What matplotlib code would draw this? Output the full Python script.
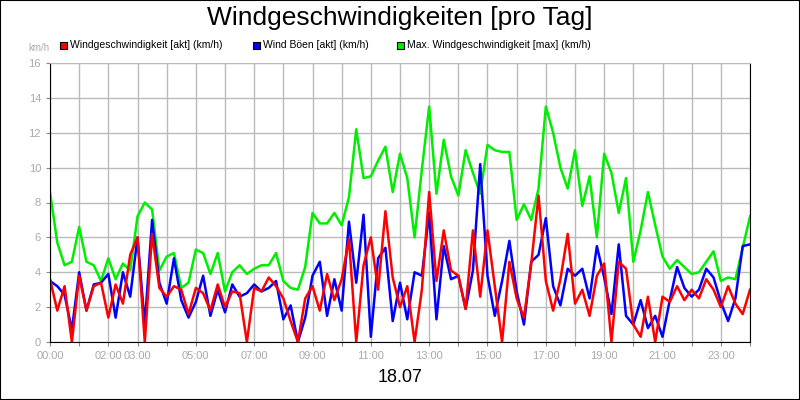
import matplotlib
matplotlib.use("Agg")
import matplotlib.pyplot as plt
import numpy as np
from matplotlib.patches import Rectangle

plt.rcParams["font.family"] = "Liberation Sans"

max_speed = [8.6,5.7,4.4,4.6, 6.6,4.6,4.4,3.5, 4.8,3.6,4.5,4.1, 7.2,8.0,7.6,4.1,
             4.9,5.1,3.1,3.4, 5.3,5.1,3.9,5.1, 2.9,4.0,4.4,3.9, 4.2,4.4,4.4,5.1,
             3.5,3.1,3.0,4.3, 7.4,6.8,6.8,7.4, 6.7,8.3,12.2,9.4, 9.5,10.4,11.2,8.6,
             10.8,9.4,6.0,9.9, 13.5,8.5,11.6,9.5, 8.4,11.0,9.7,8.5, 11.3,11.0,10.9,10.9,
             7.0,7.9,7.0,8.8, 13.5,12.0,10.0,8.8, 11.0,7.8,9.5,6.0, 10.8,9.7,7.4,9.4,
             4.6,6.4,8.6,6.7, 4.9,4.2,4.7,4.3, 3.9,4.0,4.6,5.2, 3.5,3.7,3.6,5.4, 7.2]
gust = [3.5,3.2,2.7,0.7, 4.0,1.8,3.3,3.4, 3.9,1.4,4.0,2.6, 6.0,1.0,7.0,3.4,
        2.2,4.8,2.4,1.4, 2.3,3.8,1.5,3.0, 1.7,3.3,2.6,2.8, 3.3,2.9,3.1,3.5,
        1.3,2.1,0.0,1.4, 3.8,4.6,1.5,3.6, 1.8,6.9,3.4,7.3, 0.3,4.8,5.4,1.2,
        3.4,1.3,4.0,3.8, 7.4,1.3,5.5,3.6, 3.8,1.9,4.1,10.2, 3.8,1.5,3.5,5.8,
        2.9,1.0,4.6,5.0, 7.1,3.2,2.1,4.2, 3.8,4.2,2.5,5.5, 3.7,1.6,5.6,1.5,
        1.0,2.4,0.8,1.5, 0.3,2.4,4.3,3.1, 2.6,3.0,4.2,3.7, 2.3,1.2,2.5,5.5, 5.6]
speed = [3.6,1.8,3.2,0.0, 3.8,1.8,3.2,3.4, 1.4,3.3,2.2,5.0, 6.0,0.0,6.2,3.1,
         2.6,3.2,3.0,1.6, 3.1,2.8,1.8,3.3, 2.0,2.9,2.8,0.0, 3.1,2.9,3.7,3.2,
         2.5,1.2,0.0,2.5, 3.2,1.8,3.9,2.4, 3.6,5.9,0.0,4.4, 6.0,3.0,7.5,3.7,
         2.0,3.2,0.0,3.0, 8.6,3.5,6.4,4.1, 3.8,1.9,6.4,2.6, 6.4,3.2,0.0,4.6,
         2.5,1.4,4.5,8.4, 3.5,1.8,3.6,6.2, 2.2,3.0,1.5,3.8, 4.5,0.0,4.6,4.2,
         1.0,0.3,2.6,0.0, 2.6,2.3,3.2,2.4, 3.0,2.5,3.6,3.0, 2.0,3.2,2.2,1.6, 3.0]
hours = np.arange(len(speed)) * 0.25
tick_labels = {0: "00:00", 2: "02:00", 3: "03:00", 5: "05:00", 7: "07:00", 9: "09:00",
               11: "11:00", 13: "13:00", 15: "15:00", 17: "17:00", 19: "19:00",
               21: "21:00", 23: "23:00"}
legend_labels = ["Windgeschwindigkeit [akt] (km/h)", "Wind Böen [akt] (km/h)",
                 "Max. Windgeschwindigkeit [max] (km/h)"]
colors = ["#ff0000", "#0000ff", "#00ee00"]

fig = plt.figure(figsize=(8, 4), dpi=100)
fig.patches.append(Rectangle((0, 0), 1, 1, transform=fig.transFigure, fill=False,
                             edgecolor="black", lw=1.5))
ax = fig.add_axes([50/800, 1-342/400, 700/800, 279/400])
ax.plot(hours, max_speed, color=colors[2], lw=1.8)
ax.plot(hours, gust, color=colors[1], lw=1.8)
ax.plot(hours, speed, color=colors[0], lw=1.8)
ax.set_xlim(0, 24)
ax.set_ylim(0, 16)
ax.set_xticks(range(25))
ax.set_xticklabels([tick_labels.get(h, "") for h in range(25)])
ax.set_yticks(range(0, 17, 2))
ax.grid(True, color="#bbbbbb", lw=1)
ax.tick_params(labelsize=8, labelcolor="#aaaaaa", color="#888888", length=3)
for s in ["left", "bottom", "right"]:
    ax.spines[s].set_color("black")
ax.spines["top"].set_color("#bbbbbb")

fig.text(0.5, 1-18/400, "Windgeschwindigkeiten [pro Tag]", ha="center", va="center", fontsize=19)
fig.text(28/800, 1-48/400, "km/h", fontsize=7, color="#aaaaaa", va="center")
xs = [60, 253, 397]
for x, lab, c in zip(xs, legend_labels, colors):
    fig.patches.append(Rectangle((x/800, 1-49/400), 7/800, 7/400, transform=fig.transFigure,
                                 facecolor=c, edgecolor="black", lw=0.8))
    fig.text((x+10)/800, 1-45/400, lab, fontsize=7.5, va="center")
fig.text(0.5, 1-378/400, "18.07", ha="center", va="center", fontsize=13)
fig.savefig("out.png", dpi=100)
